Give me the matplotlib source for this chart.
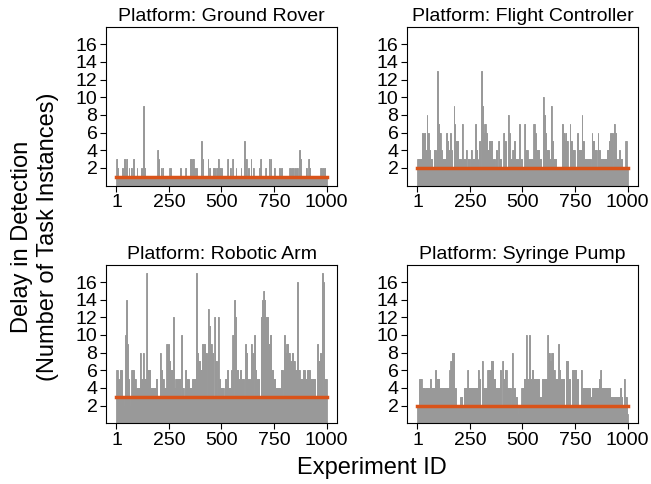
import numpy as np
import matplotlib
matplotlib.use("Agg")
import matplotlib.pyplot as plt

plt.rcParams['font.family'] = ['Liberation Sans', 'DejaVu Sans']

titles = ["Platform: Ground Rover", "Platform: Flight Controller",
          "Platform: Robotic Arm", "Platform: Syringe Pump"]
n_experiments = 1000
medians = [1, 2, 3, 2]
xtick_labels = [1, 250, 500, 750, 1000]
ytick_labels = [2, 4, 6, 8, 10, 12, 14, 16]

# delay readings: (first ID, last ID, delay); every
# other experiment sits at the platform's typical delay (the median)
rover_runs = [
    (1, 4, 3), (5, 9, 2), (28, 31, 2), (37, 41, 3), (44, 47, 2), (49, 53, 3),
    (59, 62, 2), (69, 73, 2), (81, 85, 3), (97, 100, 2), (116, 119, 2),
    (121, 124, 2), (129, 132, 9), (134, 137, 2), (168, 169, 0), (196, 199, 4),
    (202, 205, 3), (211, 214, 2), (220, 224, 2), (231, 232, 0), (253, 256, 2),
    (259, 262, 2), (304, 307, 2), (310, 311, 0), (329, 332, 2), (351, 356, 3),
    (362, 367, 3), (370, 373, 2), (380, 383, 2), (403, 406, 5), (411, 414, 3),
    (428, 429, 0), (435, 438, 3), (443, 446, 2), (459, 462, 2), (465, 468, 2),
    (477, 480, 2), (482, 486, 3), (489, 492, 2), (495, 498, 2), (501, 504, 2),
    (529, 532, 3), (540, 543, 2), (553, 556, 3), (568, 571, 2), (585, 586, 0),
    (592, 595, 2), (608, 611, 5), (616, 619, 3), (628, 631, 2), (639, 642, 3),
    (650, 653, 2), (679, 682, 2), (686, 689, 3), (703, 704, 0), (710, 713, 2),
    (726, 729, 3), (734, 737, 3), (749, 752, 2), (774, 777, 2), (785, 788, 2),
    (801, 802, 0), (816, 817, 0), (824, 827, 2), (832, 835, 2), (840, 843, 2),
    (850, 853, 2), (859, 862, 2), (870, 873, 4), (875, 878, 3), (902, 905, 2),
    (914, 917, 3), (919, 922, 2), (971, 974, 2), (980, 983, 2), (989, 992, 2),
]
flight_runs = [
    (1, 20, 3), (22, 27, 6), (28, 31, 5), (32, 38, 6), (39, 43, 4), (45, 48, 8),
    (50, 54, 6), (56, 60, 4), (62, 70, 3), (78, 88, 4), (94, 97, 13),
    (100, 104, 7), (106, 110, 6), (112, 116, 4), (118, 135, 3), (138, 142, 6),
    (144, 147, 5), (150, 153, 4), (156, 159, 6), (161, 164, 4), (173, 176, 9),
    (178, 181, 7), (184, 194, 5), (196, 208, 3), (210, 210, 1), (212, 215, 7),
    (217, 228, 3), (231, 234, 4), (240, 249, 3), (255, 258, 4), (260, 272, 3),
    (276, 279, 7), (281, 285, 4), (288, 290, 3), (295, 298, 5), (304, 307, 13),
    (309, 312, 9), (314, 318, 6), (320, 324, 7), (327, 331, 6), (334, 340, 4),
    (341, 357, 5), (360, 368, 3), (374, 378, 4), (386, 389, 5), (391, 400, 3),
    (410, 414, 6), (417, 421, 5), (431, 434, 8), (436, 440, 6), (442, 450, 3),
    (453, 457, 4), (460, 464, 5), (466, 480, 3), (484, 487, 7), (490, 498, 3),
    (510, 513, 7), (516, 524, 4), (527, 548, 3), (553, 557, 7), (559, 563, 6),
    (565, 579, 4), (581, 590, 3), (597, 600, 10), (603, 607, 8), (609, 613, 6),
    (615, 625, 4), (627, 633, 3), (635, 638, 9), (640, 646, 5), (648, 660, 3),
    (688, 692, 7), (694, 698, 6), (700, 704, 5), (705, 708, 6), (710, 714, 5),
    (725, 728, 7), (730, 734, 5), (736, 748, 4), (761, 764, 6), (766, 780, 4),
    (782, 785, 8), (787, 791, 5), (793, 825, 3), (829, 832, 6), (834, 842, 5),
    (844, 852, 4), (858, 861, 6), (863, 867, 4), (869, 900, 3), (902, 910, 4),
    (912, 916, 5), (918, 922, 6), (925, 929, 6), (935, 938, 7), (940, 946, 6),
    (948, 958, 3), (960, 963, 4), (965, 975, 3), (990, 995, 5),
]
arm_runs = [
    (1, 6, 6), (8, 13, 5), (18, 26, 6), (34, 37, 2), (43, 46, 10), (48, 51, 14),
    (52, 55, 9), (57, 60, 5), (65, 68, 2), (73, 83, 6), (85, 92, 5),
    (94, 110, 4), (112, 115, 8), (117, 123, 5), (127, 130, 8), (132, 140, 5),
    (144, 147, 17), (149, 154, 6), (156, 162, 6), (164, 175, 4), (177, 186, 4),
    (188, 195, 5), (207, 210, 8), (212, 217, 6), (219, 225, 5), (227, 235, 4),
    (239, 242, 9), (246, 249, 9), (251, 256, 7), (258, 267, 6), (270, 273, 12),
    (275, 280, 4), (282, 304, 5), (309, 312, 10), (314, 320, 4), (328, 333, 6),
    (335, 345, 5), (347, 360, 4), (362, 378, 5), (380, 383, 17), (385, 390, 8),
    (392, 398, 7), (400, 406, 6), (408, 414, 9), (416, 422, 9), (424, 430, 8),
    (436, 439, 13), (441, 446, 11), (448, 453, 9), (455, 461, 8), (467, 470, 12),
    (472, 478, 7), (483, 486, 12), (488, 494, 5), (496, 510, 4), (514, 516, 2),
    (518, 525, 5), (527, 532, 6), (534, 545, 4), (547, 551, 6), (553, 557, 10),
    (561, 565, 14), (567, 570, 12), (572, 580, 6), (582, 587, 5), (589, 595, 6),
    (597, 606, 5), (614, 617, 9), (619, 623, 8), (625, 636, 5), (640, 643, 9),
    (645, 650, 8), (656, 659, 10), (661, 666, 6), (668, 680, 5), (687, 691, 12),
    (693, 698, 14), (700, 703, 15), (705, 709, 14), (711, 714, 12),
    (716, 721, 12), (723, 729, 9), (731, 737, 10), (739, 745, 6), (747, 755, 5),
    (757, 778, 4), (782, 792, 6), (798, 801, 10), (803, 808, 8), (810, 816, 9),
    (818, 824, 8), (826, 832, 7), (834, 840, 8), (842, 848, 7), (850, 856, 6),
    (860, 863, 16), (865, 871, 6), (873, 885, 5), (887, 896, 6), (898, 905, 5),
    (907, 920, 6), (922, 945, 5), (948, 951, 2), (956, 959, 9), (961, 966, 7),
    (968, 973, 8), (979, 982, 17), (986, 989, 16), (991, 1000, 5),
]
pump_runs = [
    (10, 20, 5), (22, 36, 4), (40, 56, 4), (60, 64, 5), (66, 84, 4), (86, 89, 6),
    (91, 104, 5), (106, 152, 4), (153, 156, 6), (158, 162, 7), (164, 175, 8),
    (177, 183, 4), (205, 214, 3), (222, 236, 4), (239, 242, 6), (244, 286, 4),
    (288, 291, 6), (293, 300, 5), (307, 310, 7), (312, 330, 4), (334, 345, 6),
    (350, 360, 7), (362, 370, 5), (372, 390, 4), (393, 397, 6), (405, 408, 7),
    (410, 415, 5), (417, 424, 6), (426, 444, 4), (450, 453, 8), (455, 464, 4),
    (466, 474, 3), (477, 479, 1), (496, 504, 4), (506, 513, 5), (516, 519, 10),
    (521, 528, 5), (532, 535, 10), (537, 542, 5), (544, 550, 6), (552, 580, 5),
    (582, 590, 3), (592, 616, 5), (619, 622, 10), (624, 629, 8), (631, 636, 7),
    (638, 645, 8), (647, 653, 6), (655, 668, 5), (671, 674, 9), (676, 680, 6),
    (682, 698, 5), (706, 716, 7), (718, 728, 5), (736, 756, 6), (758, 766, 5),
    (777, 781, 6), (783, 820, 4), (822, 828, 3), (830, 862, 4), (864, 869, 5),
    (871, 875, 6), (877, 890, 4), (892, 915, 4), (917, 932, 3), (934, 962, 3),
    (964, 969, 4), (971, 975, 3), (982, 985, 5), (987, 996, 3), (998, 1000, 1),
]
all_runs = [rover_runs, flight_runs, arm_runs, pump_runs]


def build_delays(median, runs):
    delays = np.full(n_experiments, median, dtype=float)
    for first, last, value in runs:
        delays[first - 1:last] = value
    return delays


fig, axes = plt.subplots(2, 2, figsize=(6.51, 4.84), dpi=100)
fig.subplots_adjust(left=0.1624, right=0.9805, top=0.9442, bottom=0.1254,
                    wspace=0.3, hspace=0.5)

ids = np.arange(1, n_experiments + 1)
for ax, title, median, runs in zip(axes.flat, titles, medians, all_runs):
    delays = build_delays(median, runs)
    ax.bar(ids, delays, width=1.0, color='#999999', edgecolor='#999999',
           linewidth=0.6)
    ax.plot([ids[0], ids[-1]], [median, median], color='#d95319', lw=2.5)
    ax.set_title(title, fontsize=14, pad=4)
    ax.set_xticks(xtick_labels)
    ax.set_yticks(ytick_labels)
    ax.set_ylim(0, 17.95)
    ax.set_xlim(-50, 1051)
    ax.tick_params(labelsize=14, length=4, pad=2)

fig.text(0.572, 0.033, "Experiment ID", ha='center', va='center', fontsize=17)
fig.text(0.054, 0.51, "Delay in Detection\n(Number of Task Instances)",
         ha='center', va='center', rotation=90, fontsize=17)

fig.savefig("out.png", dpi=100)
